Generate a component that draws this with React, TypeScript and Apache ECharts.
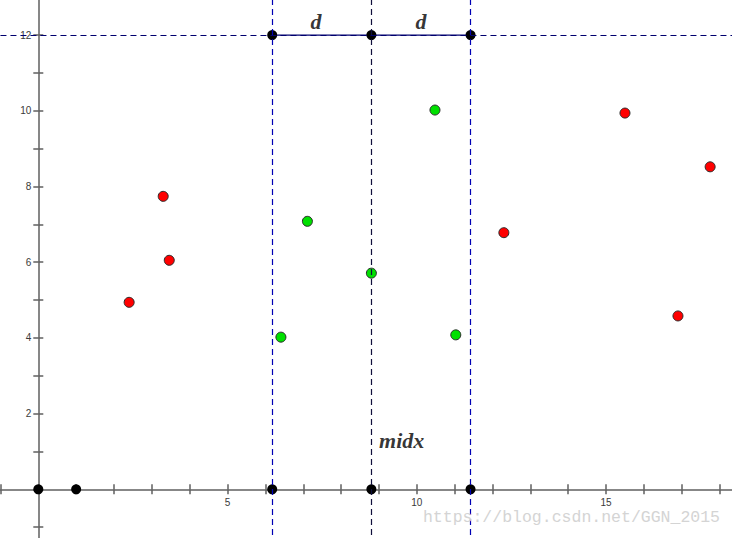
import React, { useEffect, useRef } from 'react';
import * as echarts from 'echarts';

// Red points (outside the strip)
const redX = [2.4, 3.3, 3.46, 12.3, 15.5, 16.9, 17.75];
const redY = [4.94, 7.74, 6.05, 6.78, 9.94, 4.58, 8.52];
// Green points (inside the strip)
const greenX = [6.41, 7.11, 8.8, 10.48, 11.03];
const greenY = [4.02, 7.08, 5.71, 10.02, 4.08];
// Dividing line and strip half-width
const midX = 8.8;
const d = 2.62;
const topY = 12;
// Extra black points on the x axis
const axisPointsX = [0, 1];
// Tick labels shown
const xTickLabels = [5, 10, 15];
const yTickLabels = [2, 4, 6, 8, 10, 12];
// Annotations (data coordinates)
const annotText = ['d', 'd', 'midx'];
const annotX = [7.34, 10.11, 9.6];
const annotY = [12.35, 12.35, 1.3];

const X_MIN = -1, X_MAX = 19, Y_MIN = -2, Y_MAX = 13;

export default function App() {
  const ref = useRef<HTMLDivElement>(null);
  useEffect(() => {
    if (!ref.current) return;
    const chart = echarts.init(ref.current, null, { renderer: 'svg' });
    const axisColor = '#5f5f5f';
    const isInt = (v: number) => Math.abs(v - Math.round(v)) < 1e-6;
    const leftX = midX - d;
    const rightX = midX + d;
    const blackPts: number[][] = [
      ...axisPointsX.map((x) => [x, 0]),
      [leftX, 0], [midX, 0], [rightX, 0],
      [leftX, topY], [midX, topY], [rightX, topY],
    ];
    const labelFont = { fontSize: 10, color: '#3a3a3a', fontFamily: 'Liberation Sans' };
    // plot geometry (pixels)
    const gLeft = 0.45, gRight = -25.45, gTop = -2.75, gBottom = -27;
    const zeroXpx = 38.3, zeroYpx = 489.3;
    const hidden = { axisLine: { show: false }, axisTick: { show: false }, axisLabel: { show: false }, splitLine: { show: false } };
    const xBase = { type: 'value', min: X_MIN, max: X_MAX, interval: 1 };
    const yBase = { type: 'value', min: Y_MIN, max: Y_MAX, interval: 1 };
    const tickStyle = { color: axisColor, width: 1.5 };
    chart.setOption({
      animation: false,
      backgroundColor: '#ffffff',
      grid: [
        { left: gLeft, right: gRight, top: gTop, bottom: gBottom, containLabel: false, outerBoundsMode: 'none' },
        { left: gLeft, right: gRight, top: gTop, height: zeroYpx - gTop, containLabel: false, outerBoundsMode: 'none' },
        { left: zeroXpx, width: 100, top: gTop, bottom: gBottom, containLabel: false, outerBoundsMode: 'none' },
      ],
      xAxis: [
        {
          ...xBase, gridIndex: 0, position: 'bottom',
          axisLine: { show: true, onZero: true, onZeroAxisIndex: 0, lineStyle: tickStyle },
          axisTick: { show: true, length: 5, lineStyle: tickStyle },
          axisLabel: { show: false }, splitLine: { show: false },
        },
        {
          ...xBase, gridIndex: 0, position: 'top',
          axisLine: { show: false, onZero: true, onZeroAxisIndex: 0 },
          axisTick: { show: true, length: 5, lineStyle: tickStyle },
          axisLabel: { show: false }, splitLine: { show: false },
        },
        {
          ...xBase, gridIndex: 1, position: 'bottom',
          axisLine: { show: false, onZero: false }, axisTick: { show: false }, splitLine: { show: false },
          axisLabel: {
            ...labelFont, margin: 8,
            formatter: (v: number) => (isInt(v) && xTickLabels.includes(Math.round(v)) ? String(Math.round(v)) : ''),
          },
        },
        { ...xBase, gridIndex: 2, ...hidden },
      ],
      yAxis: [
        {
          ...yBase, gridIndex: 0, position: 'left',
          axisLine: { show: true, onZero: true, onZeroAxisIndex: 0, lineStyle: tickStyle },
          axisTick: { show: true, length: 5, lineStyle: tickStyle },
          axisLabel: { show: false }, splitLine: { show: false },
        },
        {
          ...yBase, gridIndex: 0, position: 'right',
          axisLine: { show: false, onZero: true, onZeroAxisIndex: 0 },
          axisTick: { show: true, length: 5, lineStyle: tickStyle },
          axisLabel: { show: false }, splitLine: { show: false },
        },
        { ...yBase, gridIndex: 1, ...hidden },
        {
          ...yBase, gridIndex: 2, position: 'left',
          axisLine: { show: false, onZero: false }, axisTick: { show: false }, splitLine: { show: false },
          axisLabel: {
            ...labelFont, margin: 7,
            formatter: (v: number) => (isInt(v) && yTickLabels.includes(Math.round(v)) ? String(Math.round(v)) : ''),
          },
        },
      ],
      series: [
        {
          type: 'line', name: 'lines', z: 1, silent: true, xAxisIndex: 0, yAxisIndex: 0,
          data: [[leftX, topY], [rightX, topY]],
          symbol: 'none',
          lineStyle: { color: '#00006e', width: 1.2, type: 'solid' },
          markLine: {
            silent: true, symbol: ['none', 'none'], label: { show: false },
            data: [
              { xAxis: leftX, lineStyle: { color: '#0000b4', width: 1.2, type: [6, 4] } },
              { xAxis: rightX, lineStyle: { color: '#0000b4', width: 1.2, type: [6, 4] } },
              { xAxis: midX, lineStyle: { color: '#10103c', width: 1.2, type: [6, 4] } },
              { yAxis: topY, lineStyle: { color: '#00006e', width: 1.2, type: [6, 4] } },
            ],
          },
        },
        {
          type: 'scatter', name: 'red', z: 3, symbolSize: 10, xAxisIndex: 0, yAxisIndex: 0,
          data: redX.map((x, i) => [x, redY[i]]),
          itemStyle: { color: '#ff0000', borderColor: '#2a2a2a', borderWidth: 1, opacity: 1 },
        },
        {
          type: 'scatter', name: 'green', z: 3, symbolSize: 10, xAxisIndex: 0, yAxisIndex: 0,
          data: greenX.map((x, i) => [x, greenY[i]]),
          itemStyle: { color: '#00e000', borderColor: '#2a2a2a', borderWidth: 1, opacity: 1 },
        },
        {
          type: 'scatter', name: 'black', z: 4, symbolSize: 10, xAxisIndex: 0, yAxisIndex: 0,
          data: blackPts,
          itemStyle: { color: '#000000', opacity: 1 },
        },
        {
          type: 'scatter', name: 'annot', z: 5, symbolSize: 1, silent: true, xAxisIndex: 0, yAxisIndex: 0,
          data: annotX.map((x, i) => ({ value: [x, annotY[i]], name: annotText[i] })),
          itemStyle: { color: 'transparent' },
          label: {
            show: true, position: 'inside', formatter: (p: any) => p.name,
            fontFamily: 'Liberation Serif', fontStyle: 'italic', fontWeight: 'bold', fontSize: 22, color: '#000',
          },
        },
      ],
      graphic: [
        {
          type: 'text', right: 12, bottom: 12, z: 10, silent: true,
          style: { text: 'https://blog.csdn.net/GGN_2015', font: '16.5px "Liberation Mono"', fill: '#d4d4d4' },
        },
      ],
    });
    return () => chart.dispose();
  }, []);
  return (
    <div
      ref={ref}
      style={{ position: 'fixed', left: 0, top: 0, width: 732, height: 538, background: '#fff' }}
    />
  );
}
